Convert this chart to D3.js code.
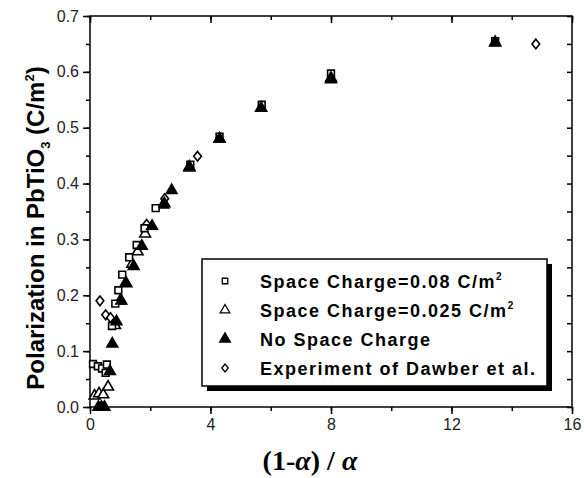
<!DOCTYPE html>
<html>
<head>
<meta charset="utf-8">
<script src="https://cdn.jsdelivr.net/npm/d3@7/dist/d3.min.js"></script>
<style>
  body { margin: 0; background: #fff; }
  svg { display: block; }
  .tick text { font-family: "Liberation Sans", Arial, sans-serif; font-size: 16px; fill: #222; }
</style>
</head>
<body>
<div id="chart"></div>
<script>
// space charge = 0.08 C/m2 (open squares)
var sq08X = [0.10, 0.26, 0.40, 0.52, 0.56, 0.73, 0.84, 0.94, 1.07, 1.30, 1.55, 1.81, 2.18, 3.33, 4.30, 5.70, 8.00, 13.45];
var sq08Y = [0.077, 0.073, 0.069, 0.061, 0.076, 0.145, 0.185, 0.209, 0.237, 0.268, 0.290, 0.320, 0.356, 0.434, 0.484, 0.541, 0.597, 0.655];
// space charge = 0.025 C/m2 (open triangles)
var tri025X = [0.15, 0.30, 0.44, 0.60, 0.83, 1.00, 1.18, 1.40, 1.58, 1.83, 2.43, 3.30, 4.30, 5.68, 8.00, 13.45];
var tri025Y = [0.020, 0.024, 0.022, 0.036, 0.146, 0.190, 0.222, 0.256, 0.278, 0.310, 0.362, 0.428, 0.480, 0.535, 0.586, 0.652];
// no space charge (filled triangles)
var noScX = [0.28, 0.38, 0.48, 0.66, 0.74, 0.88, 1.04, 1.21, 1.45, 1.72, 2.06, 2.47, 2.71, 3.30, 4.30, 5.68, 8.00, 13.45];
var noScY = [0.000, 0.000, 0.000, 0.064, 0.113, 0.153, 0.190, 0.221, 0.252, 0.288, 0.324, 0.364, 0.388, 0.430, 0.480, 0.535, 0.589, 0.653];
// experiment of Dawber et al. (open diamonds)
var expX = [0.33, 0.52, 0.68, 1.88, 2.48, 3.57, 14.80];
var expY = [0.190, 0.165, 0.160, 0.327, 0.373, 0.449, 0.650];

var xTicks = [0, 4, 8, 12, 16];
var yTicks = [0.0, 0.1, 0.2, 0.3, 0.4, 0.5, 0.6, 0.7];
var legendLabels = ["Space Charge=0.08 C/m", "Space Charge=0.025 C/m", "No Space Charge", "Experiment of Dawber et al."];

var w = 584, h = 478;
var marginLeft = 90, marginRight = 12, marginTop = 16, marginBottom = 71;
var contentsWidth = w - marginLeft - marginRight, contentsHeight = h - marginTop - marginBottom;

var svg = d3.select("#chart").append("svg")
  .attr("width", w)
  .attr("height", h);

var chartG = svg.append("g")
  .attr("transform", "translate(" + marginLeft + "," + marginTop + ")");

var xScale = d3.scaleLinear().domain([0, 16]).range([0, contentsWidth]);
var yScale = d3.scaleLinear().domain([0, 0.7]).range([contentsHeight, 0]);

var minorX = d3.range(0, 16.01, 2);
var minorY = d3.range(0, 0.701, 0.05);

function styleAxis(g) {
  g.select(".domain").remove();
  g.selectAll("line").attr("stroke", "#000").attr("stroke-width", 1.5);
}

// minor ticks first
chartG.append("g").attr("transform", "translate(0," + contentsHeight + ")")
  .call(d3.axisBottom(xScale).tickValues(minorX).tickSize(4).tickFormat(""))
  .call(styleAxis);
chartG.append("g")
  .call(d3.axisTop(xScale).tickValues(minorX).tickSize(-4).tickFormat(""))
  .call(styleAxis);
chartG.append("g")
  .call(d3.axisLeft(yScale).tickValues(minorY).tickSize(4).tickFormat(""))
  .call(styleAxis);
chartG.append("g").attr("transform", "translate(" + contentsWidth + ",0)")
  .call(d3.axisRight(yScale).tickValues(minorY).tickSize(-5).tickFormat(""))
  .call(styleAxis);

// major ticks
chartG.append("g").attr("transform", "translate(0," + contentsHeight + ")")
  .call(d3.axisBottom(xScale).tickValues(xTicks).tickSize(7).tickPadding(5).tickFormat(d3.format("d")))
  .call(styleAxis);
chartG.append("g")
  .call(d3.axisTop(xScale).tickValues(xTicks).tickSize(-7).tickFormat(""))
  .call(styleAxis);
chartG.append("g")
  .call(d3.axisLeft(yScale).tickValues(yTicks).tickSize(7).tickPadding(4).tickFormat(d3.format(".1f")))
  .call(styleAxis);

// frame
chartG.append("rect")
  .attr("width", contentsWidth)
  .attr("height", contentsHeight)
  .attr("fill", "none")
  .attr("stroke", "#000")
  .attr("stroke-width", 1.5);

// markers
var symSquare = d3.symbol().type(d3.symbolSquare).size(46);
var symTri = d3.symbol().type(d3.symbolTriangle).size(50);
var symDiamond = function(s) {
  return "M0," + (-s) + "L" + (s * 0.8) + ",0L0," + s + "L" + (-s * 0.8) + ",0Z";
};

function plotSeries(xs, ys, path, fill) {
  chartG.append("g").selectAll("path")
    .data(xs.map(function(d, i) { return [d, ys[i]]; }))
    .enter().append("path")
    .attr("transform", function(d) { return "translate(" + xScale(d[0]) + "," + yScale(d[1]) + ")"; })
    .attr("d", path)
    .attr("fill", fill)
    .attr("stroke", "#000")
    .attr("stroke-width", 1.6);
}

plotSeries(expX, expY, symDiamond(4.8), "#fff");
plotSeries(tri025X, tri025Y, symTri(), "#fff");
plotSeries(sq08X, sq08Y, symSquare(), "#fff");
plotSeries(noScX, noScY, symTri(), "#000");

// legend
var lg = svg.append("g").attr("transform", "translate(202,259)");
lg.append("rect").attr("x", 5).attr("y", 5).attr("width", 345).attr("height", 127).attr("fill", "#000");
lg.append("rect").attr("width", 345).attr("height", 127).attr("fill", "#fff").attr("stroke", "#000").attr("stroke-width", 1.5);

var legendSyms = [
  { path: d3.symbol().type(d3.symbolSquare).size(30)(), fill: "#fff" },
  { path: d3.symbol().type(d3.symbolTriangle).size(40)(), fill: "#fff" },
  { path: d3.symbol().type(d3.symbolTriangle).size(50)(), fill: "#000" },
  { path: symDiamond(4), fill: "#fff" }
];

legendLabels.forEach(function(label, i) {
  var ry = 22 + i * 29;
  lg.append("path")
    .attr("transform", "translate(23," + ry + ")")
    .attr("d", legendSyms[i].path)
    .attr("fill", legendSyms[i].fill)
    .attr("stroke", "#000")
    .attr("stroke-width", 1.3);
  var t = lg.append("text")
    .attr("x", 58)
    .attr("y", ry + 7)
    .style("font-family", "'Liberation Sans', Arial, sans-serif")
    .style("font-weight", "bold")
    .style("font-size", "18px")
    .style("letter-spacing", "1.5px")
    .text(label);
  if (i < 2) {
    t.append("tspan").attr("dy", -8).style("font-size", "10px").text("2");
  }
});

// y label
var yl = svg.append("text")
  .attr("transform", "translate(44,228) rotate(-90)")
  .attr("text-anchor", "middle")
  .style("font-family", "'Liberation Sans', Arial, sans-serif")
  .style("font-weight", "bold")
  .style("font-size", "24px");
yl.append("tspan").text("Polarization in PbTiO");
yl.append("tspan").attr("dy", 6).style("font-size", "13px").text("3");
yl.append("tspan").attr("dy", -6).text(" (C/m");
yl.append("tspan").attr("dy", -10).style("font-size", "13px").text("2");
yl.append("tspan").attr("dy", 10).text(")");

// x label
var xl = svg.append("text")
  .attr("x", 310)
  .attr("y", 470)
  .attr("text-anchor", "middle")
  .style("font-family", "'Liberation Serif', 'Times New Roman', serif")
  .style("font-weight", "bold")
  .style("font-size", "28px");
xl.append("tspan").text("(1-");
xl.append("tspan").style("font-style", "italic").text("α");
xl.append("tspan").text(") / ");
xl.append("tspan").style("font-style", "italic").text("α");
</script>
</body>
</html>
